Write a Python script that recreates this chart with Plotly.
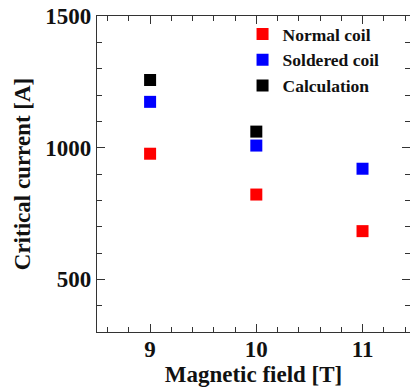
import plotly.graph_objects as go

field = [9, 10, 11]
normal_coil = [977, 822, 683]
soldered_coil = [1174, 1008, 920]
calc_field = [9, 10]
calculation = [1257, 1061]

FONT = "Liberation Serif, Times New Roman, serif"

fig = go.Figure()
fig.add_trace(go.Scatter(x=field, y=normal_coil, mode="markers", name="Normal coil",
                         marker=dict(symbol="square", size=12, color="#ff0000")))
fig.add_trace(go.Scatter(x=field, y=soldered_coil, mode="markers", name="Soldered coil",
                         marker=dict(symbol="square", size=12, color="#0000ff")))
fig.add_trace(go.Scatter(x=calc_field, y=calculation, mode="markers", name="Calculation",
                         marker=dict(symbol="square", size=12, color="#000000")))

axis_common = dict(
    showline=True, linecolor="#333", linewidth=1.2, mirror="ticks",
    ticks="inside", ticklen=8, tickcolor="#333", tickwidth=1.2,
    showgrid=False, zeroline=False, ticklabeloverflow="allow",
    tickfont=dict(family=FONT, size=23, color="#111", weight="bold"),
)

fig.update_layout(
    width=410, height=392,
    margin=dict(l=97, r=0, t=16, b=60),
    plot_bgcolor="white", paper_bgcolor="white",
    showlegend=True,
    legend=dict(x=0.465, y=1.0, xanchor="left", yanchor="top",
                font=dict(family=FONT, size=17.5, color="#111", weight="bold"),
                bgcolor="rgba(0,0,0,0)", tracegroupgap=0),
    xaxis=dict(axis_common, range=[8.5, 11.447], tickvals=[9, 10, 11],
               ticklabelstandoff=-4,
               minor=dict(ticks="inside", ticklen=5, dtick=0.2, tickcolor="#333"),
               title=dict(text="Magnetic field [T]", standoff=0,
                          font=dict(family=FONT, size=23, color="#111", weight="bold"))),
    yaxis=dict(axis_common, range=[300, 1500], tickvals=[500, 1000, 1500],
               minor=dict(ticks="inside", ticklen=5, dtick=100, tickcolor="#333"),
               title=dict(text="Critical current [A]", standoff=8,
                          font=dict(family=FONT, size=23, color="#111", weight="bold"))),
)

fig.write_html("out.html", config={"displayModeBar": False},
               post_script="document.body.style.margin='0';document.body.style.overflow='hidden';")
